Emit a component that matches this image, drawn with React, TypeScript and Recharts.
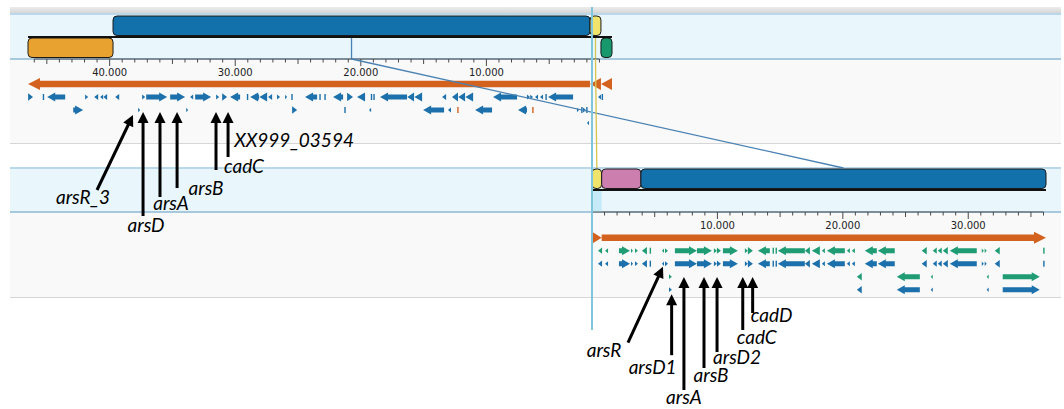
import React from 'react';
import { BarChart, Bar, XAxis, YAxis, ReferenceLine, ReferenceDot, ReferenceArea, LineChart, Line } from 'recharts';

// ---------------- data (base pairs) ----------------
const TOP_GENOME_LENGTH = 46500;
const BOTTOM_GENOME_LENGTH = 36200;

// ruler
const TOP_RULER_RANGE = [1000, 46000];
const BOTTOM_RULER_RANGE = [0, 36000];
const RULER_STEP = 1000;
const TOP_RULER_LABELS = [10000, 20000, 30000, 40000];
const BOTTOM_RULER_LABELS = [10000, 20000, 30000];

// locally collinear blocks: [id, start, end, strand]
const TOP_LCBS: [string, number, number, number][] = [
  ['orange', 39730, 46500, -1],
  ['blue', 1750, 39730, 1],
  ['yellow', 880, 1750, 1],
  ['green', 0, 880, -1],
];
const BOTTOM_LCBS: [string, number, number, number][] = [
  ['yellow', 0, 770, 1],
  ['pink', 770, 3900, 1],
  ['blue', 3900, 36200, 1],
];
const LCB_LINKS = ['blue', 'yellow'];
const BOTTOM_SELECTION = [0, 770];
const CURSOR_BOTTOM_BP = 0;

// contigs: [start, end, strand]
const TOP_CONTIGS: [number, number, number][] = [
  [1750, 46500, 1],
  [880, 1750, 1],
  [0, 880, 1],
];
const BOTTOM_CONTIGS: [number, number, number][] = [
  [0, 770, 1],
  [770, 36200, 1],
];

// genes: [start, end, strand, type?]
const TOP_GENES_ROW1: any[] = [
  [46100, 46490, -1], [45200, 45300, 1], [43540, 44970, 1], [41710, 41950, -1],
  [40910, 41230, 1], [40520, 40750, 1], [40200, 40500, 1], [39240, 39560, 1],
  [37170, 37410, -1], [35420, 37090, -1], [33990, 35180, -1], [33350, 33590, 1],
  [31920, 33190, -1], [31280, 31520, -1], [30650, 31040, -1], [29610, 30410, 1],
  [28950, 29050, 1], [28100, 28810, 1], [27460, 28080, 1], [27060, 27380, 1],
  [26430, 26670, -1], [25870, 26030, -1], [25430, 25510, 1], [23480, 24440, 1],
  [23200, 23280, 1], [22800, 22880, 1], [21410, 22210, 1], [20620, 21090, -1],
  [19660, 20300, 1], [19100, 19180, 1], [18900, 18980, 1], [16320, 18470, 1],
  [15760, 16300, 1], [15120, 15740, 1], [13210, 13530, 1], [12260, 12740, 1],
  [11700, 12240, 1], [11060, 11680, 1], [7560, 9470, 1], [6530, 6770, -1],
  [6290, 6510, -1], [5890, 6130, 1], [5490, 5730, 1], [5200, 5280, 1],
  [3100, 5090, 1], [880, 1110, 1], [720, 800, 1],
];
const TOP_GENES_ROW2: any[] = [
  [42110, 42900, -1], [37570, 37730, -1], [33750, 33900, -1], [25070, 25470, -1],
  [21210, 21290, 1], [19180, 19340, 1], [13370, 15040, 1], [12820, 13060, 1],
  [12220, 12300, 1, 'rna'], [9550, 10900, 1], [6770, 7480, 1], [6250, 6330, 1, 'rna'],
  [2630, 2790, -1], [2350, 2430, 1], [2070, 2310, -1], [1950, 2030, 1],
];
const TOP_GENES_ROW3: any[] = [[1830, 1990, 1]];

const BOTTOM_GENES_A: any[] = [
  [480, 800, -1], [1040, 1280, -1], [2150, 3030, 1], [3110, 3270, 1],
  [3430, 3660, 1], [3980, 4380, -1], [4620, 4700, 1], [5580, 5740, -1],
  [5820, 6060, 1], [6610, 8370, 1], [8370, 9560, 1], [9720, 9960, 1],
  [9960, 10280, 1], [10440, 11630, 1], [12190, 12430, 1], [12430, 12830, 1],
  [13230, 14180, -1], [14420, 14500, 1], [14660, 14740, 1], [14820, 16970, -1],
  [16970, 17370, -1], [17530, 18170, -1], [18330, 18570, -1], [18730, 20160, -1],
  [20320, 20560, -1], [20720, 20960, -1], [21750, 22710, -1], [22790, 24140, -1],
  [26290, 26690, -1], [27170, 27490, -1], [27570, 27890, -1], [27970, 28370, -1],
  [28530, 30680, -1], [31080, 31240, 1], [31310, 31470, 1], [32110, 32510, -1],
  [36000, 36100, -1],
];
const BOTTOM_GENES_B: any[] = [
  [6140, 6370, 1], [21120, 21510, -1], [24300, 26140, -1], [27010, 27170, -1],
  [31470, 31630, -1], [32750, 35700, 1],
];

// annotations: [label, position (bp), lane]
const TOP_ANNOTATIONS: [string, number, number][] = [
  ['arsR_3', 38140, 2], ['arsD', 37340, 1], ['arsA', 35990, 1],
  ['arsB', 34630, 1], ['cadC', 31530, 1], ['XX999_03594', 30570, 1],
];
const BOTTOM_ANNOTATIONS: [string, number, number][] = [
  ['arsR', 5660, 2], ['arsD1', 6350, 4], ['arsA', 7330, 2], ['arsB', 8930, 2],
  ['arsD2', 9970, 2], ['cadC', 12020, 2], ['cadD', 12810, 2],
];

// ---------------- layout & style ----------------
const W = 1064;
const H = 409;
const TOP_X = [28, 612];
const BOTTOM_X = [592, 1046];
const TOP_BAND = [15, 59];
const BOTTOM_BAND = [168, 212];
const RULER_H = 25;
const LANE_PX = 13;
const TOP_FEATURE_Y0 = 77.5;
const BOTTOM_FEATURE_Y0 = 231.2;
const TOP_LANE_MAX = 12.5;
const BOTTOM_LANE_MAX = 13;
const CURSOR_Y = [7, 330];

const LCB_COLORS: Record<string, string> = {
  orange: '#e8a22f', blue: '#1270ab', yellow: '#efe36c', green: '#17986d', pink: '#cc7fae',
};
const LINK_COLORS: Record<string, string> = { blue: '#4a82b3', yellow: '#d6c54e' };
const GENE_BLUE = '#1c70ab';
const GENE_GREEN = '#1f9c74';
const CONTIG_ORANGE = '#d4621f';
const FEATURE_GEOM: Record<string, any> = {
  contig: { shaft: 6.5, headH: 12, headL: 12 },
  gene: { shaft: 5, headH: 9, headL: 8 },
};

// label layout relative to arrow tip: gap (tip below lane centre), tail offset, text offset
const TOP_ANNOT_LAYOUT: Record<string, any> = {
  arsR_3: { gap: 5, tail: [-36, 75], text: [-50, 89] },
  arsD: { gap: 15, tail: [0, 104], text: [3, 120] },
  arsA: { gap: 15, tail: [0, 85], text: [11, 98] },
  arsB: { gap: 15, tail: [0, 76], text: [29, 83] },
  cadC: { gap: 15, tail: [0, 58], text: [28, 61] },
  XX999_03594: { gap: 15, tail: [0, 45], text: [66, 35] },
};
const BOTTOM_ANNOT_LAYOUT: Record<string, any> = {
  arsR: { gap: 3, tail: [-35, 76], text: [-59, 90] },
  arsD1: { gap: 4.5, tail: [0, 61], text: [-19, 80] },
  arsA: { gap: 13.3, tail: [0, 113], text: [0, 127] },
  arsB: { gap: 13.3, tail: [0, 91], text: [7, 105] },
  arsD2: { gap: 13.3, tail: [0, 75], text: [20, 87] },
  cadC: { gap: 13.3, tail: [0, 53], text: [14, 67] },
  cadD: { gap: 13.3, tail: [0, 36], text: [19, 45] },
};

// ---------------- helpers ----------------
const fmtBp = (v: number) => `${Math.floor(v / 1000)}.${String(v % 1000).padStart(3, '0')}`;
const rulerTicks = (r: number[]) => {
  const t: number[] = [];
  for (let v = r[0]; v <= r[1]; v += RULER_STEP) t.push(v);
  return t;
};
const TOP_PX_PER_BP = (TOP_X[1] - TOP_X[0]) / TOP_GENOME_LENGTH;
const BOTTOM_PX_PER_BP = (BOTTOM_X[1] - BOTTOM_X[0]) / BOTTOM_GENOME_LENGTH;
// overlay axis: bottom-genome coordinates, extended across both panels
const OVERLAY_DOMAIN = [(TOP_X[0] - BOTTOM_X[0]) / BOTTOM_PX_PER_BP, BOTTOM_GENOME_LENGTH];
const topToOverlay = (bp: number) => (TOP_X[1] - bp * TOP_PX_PER_BP - BOTTOM_X[0]) / BOTTOM_PX_PER_BP;
const lcbCenter = (list: any[], id: string) => {
  const b = list.find((l) => l[0] === id);
  return (b[1] + b[2]) / 2;
};

function buildFeatures(contigs: any[], rows: { genes: any[]; lane: number; color: string }[]) {
  const out: any[] = contigs.map(([s, e, strand]) => ({ lane: 0, range: [s, e], strand, kind: 'contig', color: CONTIG_ORANGE }));
  rows.forEach(({ genes, lane, color }) => {
    genes.forEach(([s, e, strand, type]) => {
      out.push({ lane, range: [s, e], strand, kind: 'gene', color: type === 'rna' ? CONTIG_ORANGE : color });
    });
  });
  return out;
}

// ---------------- shapes ----------------
function RulerTick(props: any) {
  const { x, y, payload, labels } = props;
  const v = payload.value;
  const len = v % 10000 === 0 && v > 0 ? 7 : v % 5000 === 0 ? 5 : 3.5;
  return (
    <g>
      <line x1={x} x2={x} y1={y} y2={y + len} stroke="#4a4a4a" strokeWidth={1} />
      {labels.includes(v) && (
        <text x={x} y={y + 17} textAnchor="middle" fontSize={10} fontFamily="'DejaVu Sans', sans-serif" fill="#222">
          {fmtBp(v)}
        </text>
      )}
    </g>
  );
}

function LcbShape(props: any) {
  const { x, y, width, height, payload } = props;
  if (![x, y, width, height].every(Number.isFinite)) return null;
  const cy = y + height / 2;
  return (
    <rect x={Math.min(x, x + width)} y={cy - 10} width={Math.abs(width)} height={19.5} rx={4} ry={4}
      fill={payload.color} stroke="#1a1a1a" strokeWidth={1} />
  );
}

function FeatureShape(props: any) {
  const { x, y, width, height, payload } = props;
  if (![x, y, width, height].every(Number.isFinite)) return null;
  const cy = y + height / 2;
  const head = payload.strand > 0 ? x + width : x;
  const tail = payload.strand > 0 ? x : x + width;
  const len = Math.abs(head - tail);
  const dir = head >= tail ? 1 : -1;
  const isContig = payload.kind === 'contig';
  const g = FEATURE_GEOM[isContig ? 'contig' : 'gene'];
  if (!isContig && len < 1.6) {
    return <rect x={Math.min(head, tail) - 0.3} y={cy - 3} width={1.4} height={6} fill={payload.color} />;
  }
  const hl = Math.min(g.headL, len);
  const hh = isContig ? g.headH : Math.max(4.5, Math.min(g.headH, len * 1.3 + 1));
  const neck = head - dir * hl;
  const pts = [
    [tail, cy - g.shaft / 2], [neck, cy - g.shaft / 2], [neck, cy - hh / 2], [head, cy],
    [neck, cy + hh / 2], [neck, cy + g.shaft / 2], [tail, cy + g.shaft / 2],
  ];
  return <polygon points={pts.map((p) => p.join(',')).join(' ')} fill={payload.color} />;
}

function Annotation(props: any) {
  const { cx, cy, label, layout } = props;
  const L = layout[label];
  const tipX = cx;
  const tipY = cy + L.gap;
  const tailX = tipX + L.tail[0];
  const tailY = tipY + L.tail[1];
  const dx = tipX - tailX;
  const dy = tipY - tailY;
  const d = Math.hypot(dx, dy);
  const ux = dx / d;
  const uy = dy / d;
  const hl = 11;
  const hw = 5.5;
  const bx = tipX - ux * hl;
  const by = tipY - uy * hl;
  return (
    <g>
      <line x1={tailX} y1={tailY} x2={bx + ux} y2={by + uy} stroke="#000" strokeWidth={3} />
      <polygon points={`${tipX},${tipY} ${bx - uy * hw},${by + ux * hw} ${bx + uy * hw},${by - ux * hw}`} fill="#000" />
      <text x={tipX + L.text[0]} y={tipY + L.text[1]} textAnchor="middle" fontFamily="Lato, 'Open Sans', sans-serif"
        fontStyle="italic" fontSize={19} fill="#000">
        {label}
      </text>
    </g>
  );
}

// ---------------- panels ----------------
// lanes run top-down: 0 = forward (upper) row, 1 = reverse (lower) row
function LcbPanel({ lcbs, length, reversed, xr, band, rulerRange, rulerLabels, highlight, links }: any) {
  const data = lcbs.map(([id, s, e, strand]: any) => ({ id, lane: strand > 0 ? 0 : 1, range: [s, e], color: LCB_COLORS[id] }));
  const ticks = rulerTicks(rulerRange);
  return (
    <BarChart width={W} height={H} layout="vertical" data={data}
      margin={{ top: band[0], right: W - xr[1], bottom: H - band[1] - RULER_H, left: xr[0] }}>
      <XAxis type="number" domain={[0, length]} reversed={reversed} ticks={ticks} interval={0}
        tickLine={false} axisLine={false} tickSize={0} tickMargin={0} height={RULER_H}
        tick={(p: any) => <RulerTick {...p} labels={rulerLabels} />} />
      <YAxis type="number" dataKey="lane" domain={[-0.5, 1.5]} ticks={[0, 1]} hide />
      {highlight && (
        <ReferenceArea x1={highlight[0]} x2={highlight[1]} y1={0.5} y2={1.5} fill="#c6ebf8" fillOpacity={1} stroke="none" />
      )}
      {links.map((l: any) => (
        <ReferenceLine key={l.id} segment={[{ x: l.at, y: 0.5 }, { x: l.at, y: 1.5 }]} stroke={LINK_COLORS[l.id]} strokeWidth={1.3} />
      ))}
      <Bar dataKey="range" barSize={4} shape={LcbShape} isAnimationActive={false} />
      <ReferenceLine y={0.5} stroke="#111" strokeWidth={2} />
      <ReferenceLine segment={[{ x: ticks[0], y: 1.5 }, { x: ticks[ticks.length - 1], y: 1.5 }]} stroke="#555" strokeWidth={1} />
    </BarChart>
  );
}

function FeaturePanel({ features, length, reversed, xr, y0, laneMax, annotations, layout }: any) {
  const plotBottom = y0 + (laneMax + 0.5) * LANE_PX;
  const laneTicks: number[] = [];
  for (let i = 0; i <= Math.floor(laneMax); i++) laneTicks.push(i);
  return (
    <BarChart width={W} height={H} layout="vertical" data={features}
      margin={{ top: y0, right: W - xr[1], bottom: H - plotBottom, left: xr[0] }}>
      <XAxis type="number" domain={[0, length]} reversed={reversed} hide />
      <YAxis type="number" dataKey="lane" domain={[-0.5, laneMax]} ticks={laneTicks} hide />
      <Bar dataKey="range" barSize={5} shape={FeatureShape} isAnimationActive={false} />
      {annotations.map(([label, bp, lane]: any) => (
        <ReferenceDot key={label} x={bp} y={lane} r={0} ifOverflow="visible"
          shape={(p: any) => <Annotation {...p} label={label} layout={layout} />} />
      ))}
    </BarChart>
  );
}

function OverlayChart({ y, series }: any) {
  return (
    <LineChart width={W} height={H} margin={{ top: y[0], bottom: H - y[1], left: TOP_X[0], right: W - BOTTOM_X[1] }}>
      <XAxis type="number" dataKey="x" domain={OVERLAY_DOMAIN} hide />
      <YAxis type="number" dataKey="y" domain={[0, 1]} reversed hide />
      {series.map((s: any) => (
        <Line key={s.id} data={s.points} dataKey="y" stroke={s.color} strokeWidth={s.width} dot={false}
          isAnimationActive={false} />
      ))}
    </LineChart>
  );
}

const abs = (extra: any = {}) => ({ position: 'absolute' as const, left: 0, top: 0, ...extra });

export default function App() {
  const topFeatures = buildFeatures(TOP_CONTIGS, [
    { genes: TOP_GENES_ROW1, lane: 1, color: GENE_BLUE },
    { genes: TOP_GENES_ROW2, lane: 2, color: GENE_BLUE },
    { genes: TOP_GENES_ROW3, lane: 3, color: GENE_BLUE },
  ]);
  const bottomFeatures = buildFeatures(BOTTOM_CONTIGS, [
    { genes: BOTTOM_GENES_A, lane: 1, color: GENE_GREEN },
    { genes: BOTTOM_GENES_A, lane: 2, color: GENE_BLUE },
    { genes: BOTTOM_GENES_B, lane: 3, color: GENE_GREEN },
    { genes: BOTTOM_GENES_B, lane: 4, color: GENE_BLUE },
  ]);
  const topLinks = LCB_LINKS.map((id) => ({ id, at: lcbCenter(TOP_LCBS, id) }));
  const linkSeries = LCB_LINKS.map((id) => ({
    id, color: LINK_COLORS[id], width: 1.3,
    points: [{ x: topToOverlay(lcbCenter(TOP_LCBS, id)), y: 0 }, { x: lcbCenter(BOTTOM_LCBS, id), y: 1 }],
  }));
  const cursorSeries = [{ id: 'cursor', color: '#7fc5db', width: 2, points: [{ x: CURSOR_BOTTOM_BP, y: 0 }, { x: CURSOR_BOTTOM_BP, y: 1 }] }];

  return (
    <div style={{ position: 'absolute', left: 0, top: 0, width: W, height: H, overflow: 'hidden', background: '#fff' }}>
      {/* panel backgrounds */}
      <div style={abs({ left: 10, top: 7, width: 1051, height: 6, background: 'linear-gradient(#ececec, #d6d6d6)' })} />
      <div style={abs({ left: 10, top: 13, width: 1051, height: 46.5, boxSizing: 'border-box', background: '#e9f7fd', borderTop: '2px solid #b9d8ea', borderBottom: '2px solid #a8c8de' })} />
      <div style={abs({ left: 10, top: 59.5, width: 1051, height: 83.5, background: '#f9f9f9' })} />
      <div style={abs({ left: 10, top: 143, width: 1051, height: 1, background: '#d6d6d6' })} />
      <div style={abs({ left: 10, top: 166.5, width: 1051, height: 46, boxSizing: 'border-box', background: '#e9f7fd', borderTop: '2px solid #b9d8ea', borderBottom: '2px solid #a8c8de' })} />
      <div style={abs({ left: 10, top: 212.5, width: 1051, height: 84, background: '#f9f9f9' })} />
      <div style={abs({ left: 10, top: 296.5, width: 1051, height: 1, background: '#d6d6d6' })} />

      <div style={abs()}>
        <LcbPanel lcbs={TOP_LCBS} length={TOP_GENOME_LENGTH} reversed xr={TOP_X} band={TOP_BAND}
          rulerRange={TOP_RULER_RANGE} rulerLabels={TOP_RULER_LABELS} links={topLinks} />
      </div>
      <div style={abs()}>
        <LcbPanel lcbs={BOTTOM_LCBS} length={BOTTOM_GENOME_LENGTH} reversed={false} xr={BOTTOM_X} band={BOTTOM_BAND}
          rulerRange={BOTTOM_RULER_RANGE} rulerLabels={BOTTOM_RULER_LABELS} highlight={BOTTOM_SELECTION} links={[]} />
      </div>
      <div style={abs()}>
        <FeaturePanel features={bottomFeatures} length={BOTTOM_GENOME_LENGTH} reversed={false} xr={BOTTOM_X}
          y0={BOTTOM_FEATURE_Y0} laneMax={BOTTOM_LANE_MAX} annotations={BOTTOM_ANNOTATIONS} layout={BOTTOM_ANNOT_LAYOUT} />
      </div>
      <div style={abs()}>
        <FeaturePanel features={topFeatures} length={TOP_GENOME_LENGTH} reversed xr={TOP_X}
          y0={TOP_FEATURE_Y0} laneMax={TOP_LANE_MAX} annotations={TOP_ANNOTATIONS} layout={TOP_ANNOT_LAYOUT} />
      </div>
      <div style={abs()}>
        <OverlayChart y={[TOP_BAND[1], BOTTOM_BAND[0]]} series={linkSeries} />
      </div>
      <div style={abs()}>
        <OverlayChart y={CURSOR_Y} series={cursorSeries} />
      </div>
    </div>
  );
}
